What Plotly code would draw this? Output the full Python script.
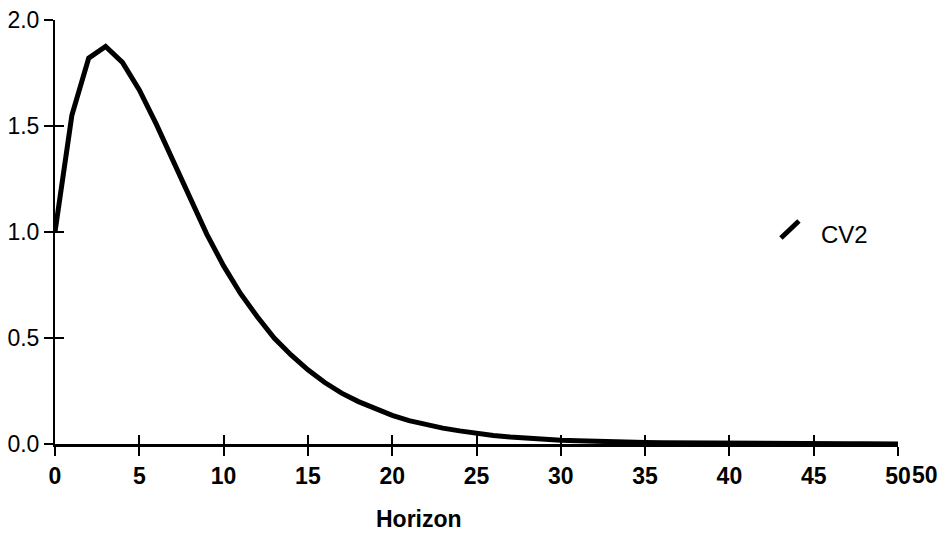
import plotly.graph_objects as go

# Data
horizon = list(range(0, 51))
cv2 = [1.00, 1.55, 1.82, 1.875, 1.80, 1.67, 1.51, 1.34, 1.16, 0.99,
       0.84, 0.71, 0.60, 0.50, 0.42, 0.35, 0.29, 0.24, 0.20, 0.165,
       0.135, 0.11, 0.09, 0.075, 0.062, 0.05, 0.04, 0.033, 0.027, 0.022,
       0.018, 0.015, 0.012, 0.010, 0.008, 0.007, 0.006, 0.005, 0.004, 0.0035,
       0.003, 0.0025, 0.002, 0.0018, 0.0015, 0.0012, 0.001, 0.0008, 0.0006, 0.0005,
       0.0004]
series_name = "CV2"
x_ticks = [0, 5, 10, 15, 20, 25, 30, 35, 40, 45, 50]
y_ticks = [0.0, 0.5, 1.0, 1.5, 2.0]
y_tick_labels = ["0.0", "0.5", "1.0", "1.5", "2.0"]
x_title = "Horizon"

fig = go.Figure()
fig.add_trace(go.Scatter(x=horizon, y=cv2, mode="lines", name=series_name,
                         line=dict(color="black", width=5), showlegend=False,
                         hoverinfo="skip"))
# invisible trace on the overlay axes so they are drawn (inner half of the ticks)
fig.add_trace(go.Scatter(x=horizon, y=cv2, mode="lines", xaxis="x2", yaxis="y2",
                         line=dict(color="rgba(0,0,0,0)", width=0), showlegend=False,
                         hoverinfo="skip"))

font_main = "Liberation Sans, Arial, sans-serif"

fig.update_layout(
    width=948, height=534,
    margin=dict(l=55, r=50, t=20, b=90, autoexpand=False),
    paper_bgcolor="white", plot_bgcolor="white",
    xaxis=dict(range=[0, 50], tickvals=x_ticks, ticktext=[str(v) for v in x_ticks],
               ticks="outside", ticklen=9, tickwidth=2, tickcolor="black",
               showline=True, linecolor="black", linewidth=3, showgrid=False,
               zeroline=False, automargin=False,
               tickfont=dict(family=font_main, size=23, color="black", weight="bold")),
    yaxis=dict(range=[0, 2.0], tickvals=y_ticks, ticktext=y_tick_labels,
               ticks="outside", ticklen=9, tickwidth=2, tickcolor="black",
               showline=True, linecolor="black", linewidth=2, showgrid=False,
               zeroline=False, automargin=False,
               tickfont=dict(family=font_main, size=23, color="black")),
    xaxis2=dict(range=[0, 50], overlaying="x", anchor="y", tickvals=x_ticks,
                ticks="inside", ticklen=9, tickwidth=2, tickcolor="black",
                showticklabels=False, showline=False, showgrid=False, zeroline=False,
                automargin=False),
    yaxis2=dict(range=[0, 2.0], overlaying="y", anchor="x", tickvals=y_ticks,
                ticks="inside", ticklen=9, tickwidth=2, tickcolor="black",
                showticklabels=False, showline=False, showgrid=False, zeroline=False,
                automargin=False),
)

# axis title
fig.add_annotation(text=x_title, xref="paper", yref="paper",
                   x=(419 - 55.5) / 842.5, y=-0.177, showarrow=False,
                   xanchor="center", yanchor="middle",
                   font=dict(family=font_main, size=23, color="black", weight="bold"))
# stray duplicate end label as in the original
fig.add_annotation(text=str(x_ticks[-1]), xref="paper", yref="paper",
                   x=(925 - 55.5) / 842.5, y=-(475 - 444) / 424, showarrow=False,
                   xanchor="center", yanchor="middle",
                   font=dict(family=font_main, size=23, color="black", weight="bold"))
# legend: slanted line icon + label
fig.add_shape(type="line", xref="paper", yref="paper",
              x0=(781 - 55.5) / 842.5, y0=(444 - 238) / 424,
              x1=(799 - 55.5) / 842.5, y1=(444 - 221) / 424,
              line=dict(color="black", width=5))
fig.add_annotation(text=series_name, xref="paper", yref="paper",
                   x=(819 - 55.5) / 842.5, y=(444 - 234) / 424, showarrow=False,
                   xanchor="left", yanchor="middle",
                   font=dict(family=font_main, size=24, color="black"))

fig.write_html("out.html")
